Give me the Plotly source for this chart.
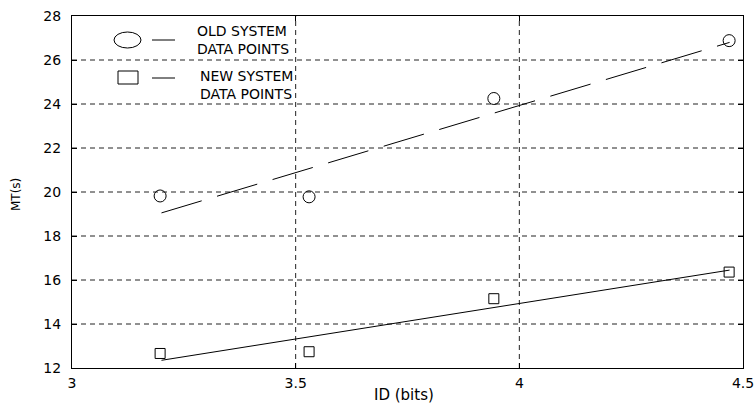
import plotly.graph_objects as go

# Data
id_bits = [3.197, 3.53, 3.943, 4.469]
old_mt = [19.82, 19.78, 24.25, 26.88]
new_mt = [12.66, 12.74, 15.15, 16.36]

fit_x = [3.2, 4.47]
old_fit = [19.05, 26.8]
new_fit = [12.35, 16.45]

x_ticks = [3, 3.5, 4, 4.5]
x_tick_labels = ["3", "3.5", "4", "4.5"]
y_ticks = [12, 14, 16, 18, 20, 22, 24, 26, 28]

FONT = "DejaVu Sans, Liberation Sans, Arial, sans-serif"

fig = go.Figure()

# fit lines
fig.add_trace(go.Scatter(x=fit_x, y=old_fit, mode="lines",
                         line=dict(color="black", width=1, dash="42px,16px"),
                         showlegend=False, hoverinfo="skip"))
fig.add_trace(go.Scatter(x=fit_x, y=new_fit, mode="lines",
                         line=dict(color="black", width=1),
                         showlegend=False, hoverinfo="skip"))
# data points
fig.add_trace(go.Scatter(x=id_bits, y=old_mt, mode="markers",
                         marker=dict(symbol="circle-open", size=12, color="black",
                                     line=dict(width=1, color="black")),
                         showlegend=False))
fig.add_trace(go.Scatter(x=id_bits, y=new_mt, mode="markers",
                         marker=dict(symbol="square-open", size=10, color="black",
                                     line=dict(width=1, color="black")),
                         showlegend=False))

# grid lines (dashed)
shapes = []
for xv in x_ticks[1:-1]:
    shapes.append(dict(type="line", xref="x", yref="paper", x0=xv, x1=xv, y0=0, y1=1,
                       line=dict(color="#222", width=1, dash="5px,4px"), layer="below"))
for yv in y_ticks[1:-1]:
    shapes.append(dict(type="line", xref="paper", yref="y", x0=0, x1=1, y0=yv, y1=yv,
                       line=dict(color="#222", width=1, dash="5px,4px"), layer="below"))

W, H = 756, 405
L, R, T, B = 72, 13, 16, 37
pw, ph = W - L - R, H - T - B
# screen-pixel -> paper helpers (for the hand-drawn legend only)
def px(x): return (x - L) / pw
def py(y): return 1 - (y - T) / ph

shapes.append(dict(type="circle", xref="paper", yref="paper",
                   x0=px(114), x1=px(141), y0=py(48), y1=py(32),
                   line=dict(color="black", width=1)))
shapes.append(dict(type="line", xref="paper", yref="paper",
                   x0=px(152), x1=px(175), y0=py(40), y1=py(40),
                   line=dict(color="black", width=1)))
shapes.append(dict(type="rect", xref="paper", yref="paper",
                   x0=px(118), x1=px(138), y0=py(84), y1=py(71),
                   line=dict(color="black", width=1)))
shapes.append(dict(type="line", xref="paper", yref="paper",
                   x0=px(152), x1=px(175), y0=py(78), y1=py(78),
                   line=dict(color="black", width=1)))

annotations = [
    dict(xref="paper", yref="paper", x=px(195), y=py(40), xanchor="left", yanchor="middle",
         text="OLD SYSTEM<br>DATA POINTS", showarrow=False, align="left",
         font=dict(family=FONT, size=14, color="black")),
    dict(xref="paper", yref="paper", x=px(198), y=py(85), xanchor="left", yanchor="middle",
         text="NEW SYSTEM<br>DATA POINTS", showarrow=False, align="left",
         font=dict(family=FONT, size=14, color="black")),
    dict(xref="paper", yref="paper", x=px(404), y=py(395), xanchor="center", yanchor="middle",
         text="ID (bits)", showarrow=False,
         font=dict(family=FONT, size=15, color="black")),
    dict(xref="paper", yref="paper", x=px(16), y=py(194), xanchor="center", yanchor="middle",
         text="MT(s)", showarrow=False, textangle=-90,
         font=dict(family=FONT, size=12, color="black")),
]

fig.update_layout(
    width=W, height=H,
    margin=dict(l=L, r=R, t=T, b=B, autoexpand=False),
    paper_bgcolor="white", plot_bgcolor="white",
    font=dict(family=FONT, size=14, color="black"),
    shapes=shapes, annotations=annotations,
    xaxis=dict(range=[3, 4.5], tickvals=x_ticks, ticktext=x_tick_labels,
               showgrid=False, zeroline=False, showline=True, linecolor="black",
               linewidth=1, mirror="ticks", ticks="inside", ticklen=5, tickcolor="black",
               automargin=False, ticklabelstandoff=2),
    yaxis=dict(range=[12, 28], tickvals=y_ticks,
               showgrid=False, zeroline=False, showline=True, linecolor="black",
               linewidth=1, mirror="ticks", ticks="inside", ticklen=5, tickcolor="black",
               automargin=False, ticklabelstandoff=7),
)

fig.write_html("out.html", config={"displayModeBar": False},
               post_script="document.body.style.margin='0';document.body.style.overflow='hidden';")
